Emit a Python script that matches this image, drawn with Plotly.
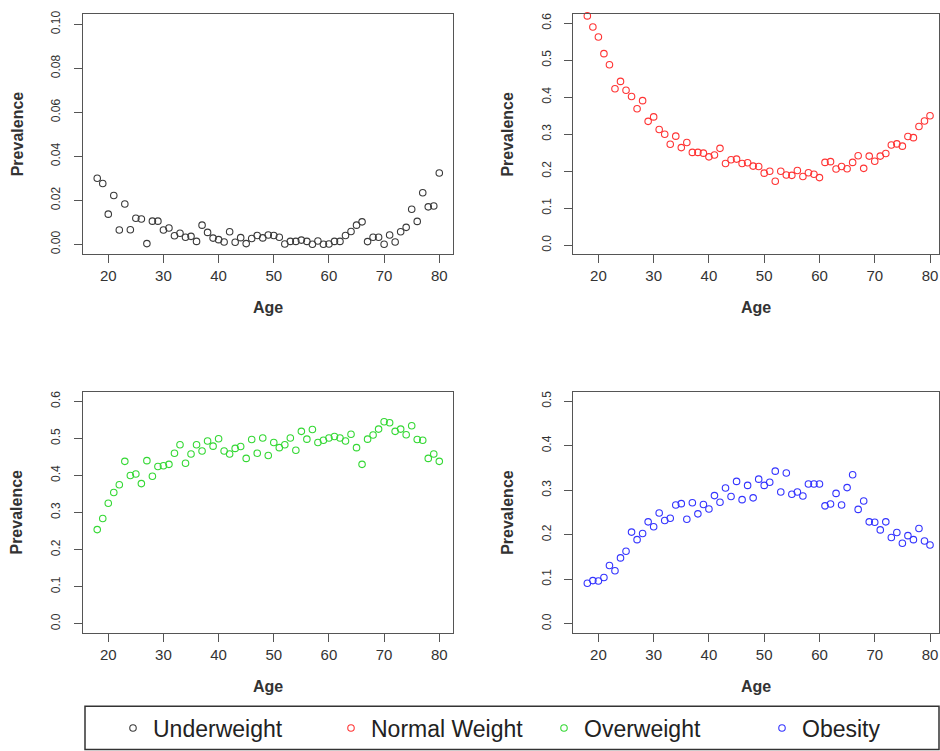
import plotly.graph_objects as go

# Age in years, 18 to 80
ages = list(range(18, 81))

# Prevalence of each BMI class by age
underweight = [
    0.0300, 0.0276, 0.0137, 0.0222, 0.0065, 0.0183, 0.0066, 0.0118, 0.0115, 0.0003,
    0.0105, 0.0105, 0.0065, 0.0074, 0.0039, 0.0050, 0.0032, 0.0036, 0.0013, 0.0087,
    0.0054, 0.0028, 0.0021, 0.0010, 0.0057, 0.0009, 0.0030, 0.0003, 0.0026, 0.0040,
    0.0029, 0.0042, 0.0040, 0.0032, 0.0001, 0.0013, 0.0013, 0.0019, 0.0013, 0.0000,
    0.0015, 0.0000, 0.0001, 0.0013, 0.0013, 0.0040, 0.0058, 0.0087, 0.0102, 0.0012,
    0.0032, 0.0032, 0.0000, 0.0042, 0.0010, 0.0057, 0.0077, 0.0159, 0.0104, 0.0234,
    0.0170, 0.0174, 0.0324,
]
normal_weight = [
    0.620, 0.590, 0.563, 0.518, 0.488, 0.423, 0.443, 0.419, 0.402, 0.369,
    0.391, 0.335, 0.347, 0.313, 0.300, 0.273, 0.295, 0.264, 0.278, 0.251,
    0.251, 0.249, 0.239, 0.244, 0.262, 0.221, 0.231, 0.233, 0.221, 0.223,
    0.214, 0.213, 0.195, 0.200, 0.173, 0.200, 0.190, 0.189, 0.202, 0.186,
    0.196, 0.192, 0.183, 0.224, 0.226, 0.206, 0.213, 0.207, 0.224, 0.242,
    0.208, 0.241, 0.227, 0.241, 0.248, 0.271, 0.274, 0.268, 0.294, 0.291,
    0.321, 0.336, 0.350,
]
overweight = [
    0.254, 0.284, 0.325, 0.354, 0.375, 0.438, 0.400, 0.404, 0.378, 0.440,
    0.398, 0.424, 0.426, 0.430, 0.460, 0.483, 0.433, 0.458, 0.483, 0.466,
    0.493, 0.479, 0.499, 0.466, 0.458, 0.473, 0.478, 0.446, 0.497, 0.460,
    0.501, 0.454, 0.489, 0.475, 0.483, 0.501, 0.468, 0.519, 0.498, 0.524,
    0.489, 0.495, 0.501, 0.505, 0.501, 0.493, 0.511, 0.475, 0.430, 0.498,
    0.509, 0.525, 0.545, 0.542, 0.519, 0.525, 0.510, 0.534, 0.497, 0.495,
    0.446, 0.458, 0.438,
]
obesity = [
    0.091, 0.097, 0.096, 0.104, 0.131, 0.119, 0.148, 0.163, 0.206, 0.189,
    0.203, 0.229, 0.218, 0.249, 0.232, 0.237, 0.267, 0.270, 0.235, 0.272,
    0.247, 0.268, 0.258, 0.288, 0.273, 0.305, 0.286, 0.320, 0.279, 0.311,
    0.283, 0.325, 0.311, 0.318, 0.343, 0.296, 0.339, 0.291, 0.296, 0.287,
    0.314, 0.314, 0.314, 0.265, 0.269, 0.293, 0.267, 0.306, 0.335, 0.257,
    0.276, 0.229, 0.228, 0.211, 0.229, 0.194, 0.205, 0.181, 0.198, 0.189,
    0.214, 0.186, 0.177,
]

series_names = ["Underweight", "Normal Weight", "Overweight", "Obesity"]
series_values = [underweight, normal_weight, overweight, obesity]
x_ticks = [20, 30, 40, 50, 60, 70, 80]
y_ticks = [
    [0.00, 0.02, 0.04, 0.06, 0.08, 0.10],
    [0.0, 0.1, 0.2, 0.3, 0.4, 0.5, 0.6],
    [0.0, 0.1, 0.2, 0.3, 0.4, 0.5, 0.6],
    [0.0, 0.1, 0.2, 0.3, 0.4, 0.5],
]

# ---- layout settings ----
W, H = 940, 751
FONT = "Liberation Sans, Arial, sans-serif"
colors = ["#3a3a3a", "#ff3434", "#34d834", "#3434ff"]
tick_formats = [".2f", ".1f", ".1f", ".1f"]
y_ranges = [[-0.0045, 0.1045], [-0.024, 0.624], [-0.024, 0.624], [-0.02, 0.52]]
x_ranges = [[15.42, 82.54], [15.46, 81.68], [15.42, 82.54], [15.46, 81.68]]
# pixel boxes of the four panels (left, right, top, bottom)
boxes = [
    (83, 453.3, 10.5, 251.5),
    (573.3, 939.3, 10.5, 251.5),
    (83, 453.3, 390.5, 632),
    (573.3, 939.3, 390.5, 632),
]
# left edge (px) of each key entry in the bottom legend strip
legend_left = [113, 331, 544, 762]


def px_x(v):
    return v / W


def px_y(v):
    return 1 - v / H


fig = go.Figure()
layout = {}
annotations = []

for i, (name, vals, col) in enumerate(zip(series_names, series_values, colors)):
    n = "" if i == 0 else str(i + 1)
    leg = "legend" + n
    fig.add_trace(go.Scatter(
        x=ages, y=vals, mode="markers", name=name,
        xaxis="x" + n, yaxis="y" + n, legend=leg,
        marker=dict(symbol="circle-open", size=6.5, color=col,
                    line=dict(width=1.1, color=col)),
        cliponaxis=False,
    ))
    left, right, top, bottom = boxes[i]
    axis_common = dict(
        showline=True, linecolor="#555555", linewidth=1, mirror=True,
        ticks="outside", ticklen=8, tickcolor="#555555", tickwidth=1,
        showgrid=False, zeroline=False,
    )
    layout["xaxis" + n] = dict(
        axis_common, domain=[px_x(left), px_x(right)], range=x_ranges[i],
        tickvals=x_ticks, anchor="y" + n, ticklabelstandoff=0,
        tickfont=dict(family=FONT, size=15, color="#333333"),
    )
    layout["yaxis" + n] = dict(
        axis_common, domain=[px_y(bottom), px_y(top)], range=y_ranges[i],
        tickvals=y_ticks[i], tickformat=tick_formats[i], anchor="x" + n,
        tickangle=-90, tickfont=dict(family=FONT, size=12, color="#333333"),
        ticklabelstandoff=9,
    )
    layout[leg] = dict(
        orientation="h", x=px_x(legend_left[i]), y=px_y(728),
        xanchor="left", yanchor="middle",
        font=dict(family=FONT, size=23, color="#222222"),
        bgcolor="rgba(0,0,0,0)", borderwidth=0,
    )
    # axis titles
    annotations.append(dict(
        text="Age", x=px_x((left + right) / 2), y=px_y(bottom + 54),
        xref="paper", yref="paper", showarrow=False, xanchor="center", yanchor="middle",
        font=dict(family=FONT, size=16, color="#333333", weight="bold"),
    ))
    annotations.append(dict(
        text="Prevalence", x=px_x(left - 66), y=px_y((top + bottom) / 2),
        xref="paper", yref="paper", showarrow=False, textangle=-90,
        xanchor="center", yanchor="middle",
        font=dict(family=FONT, size=16, color="#333333", weight="bold"),
    ))

fig.update_layout(
    width=W, height=H,
    margin=dict(l=0, r=0, t=0, b=0),
    paper_bgcolor="white", plot_bgcolor="white",
    font=dict(family=FONT, color="#222222"),
    showlegend=True,
    shapes=[dict(
        type="rect", xref="paper", yref="paper",
        x0=px_x(85), x1=px_x(939), y0=px_y(749.5), y1=px_y(706),
        line=dict(color="#333333", width=1.5),
    )],
    annotations=annotations,
    **layout,
)

fig.write_html("out.html")
